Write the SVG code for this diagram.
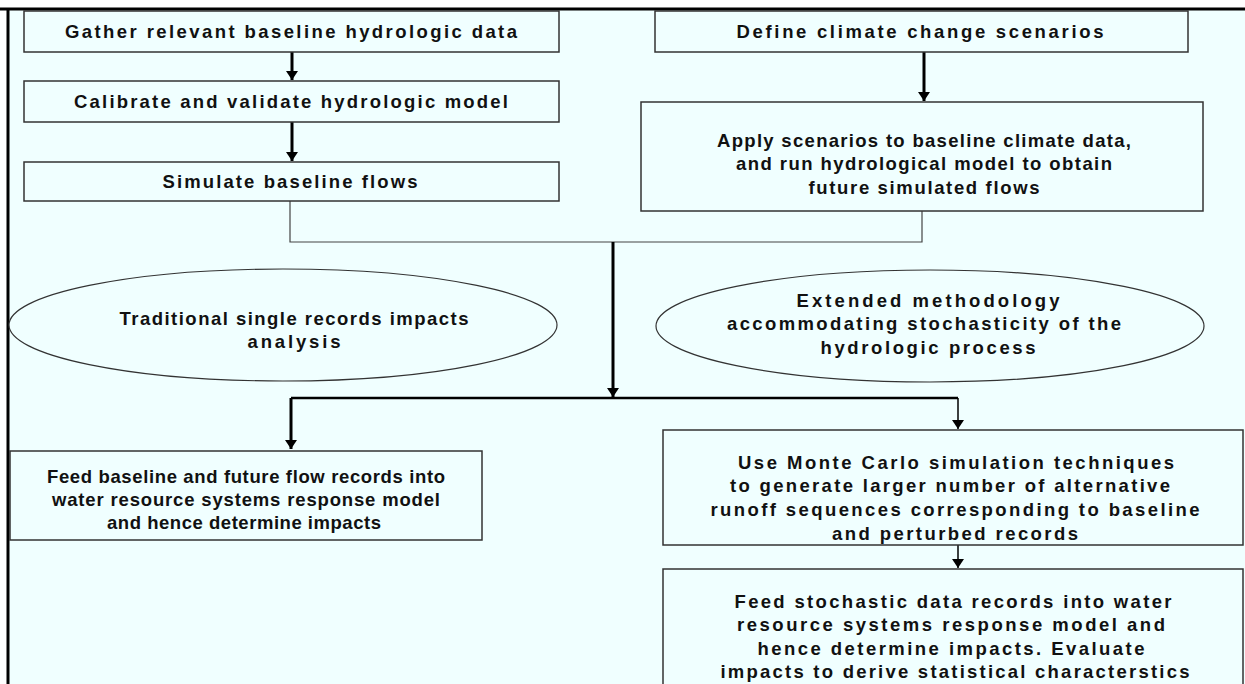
<svg xmlns="http://www.w3.org/2000/svg" width="1245" height="684" viewBox="0 0 1245 684">
<style>
.box{fill:#F0FFFF;stroke:#333;stroke-width:1.5}
.ell{fill:#F0FFFF;stroke:#333;stroke-width:1.2}
.t{font-family:"Liberation Sans",Arial,sans-serif;font-weight:bold;font-size:18.5px;fill:#111;text-anchor:middle;dominant-baseline:central}
.thick{stroke:#000;stroke-width:3;fill:none}
.mid{stroke:#000;stroke-width:2.5;fill:none}
.thin{stroke:#000;stroke-width:1.5;fill:none}
.hair{stroke:#444;stroke-width:1.2;fill:none}
</style>
<defs>
<marker id="ah" markerUnits="userSpaceOnUse" markerWidth="10" markerHeight="13" refX="9" refY="6.5" orient="auto" viewBox="0 0 10 13">
<path d="M0,0.5 L9,6.5 L0,12.5 Z" fill="#000"/>
</marker>
</defs>
<rect x="0" y="0" width="1245" height="684" fill="#fff"/>
<rect x="8" y="9" width="1237" height="675" fill="#F0FFFF"/>
<path d="M0,9 H1245 M8,9 V684" stroke="#000" stroke-width="3" fill="none"/>

<g id="connectors">
<path class="thick" d="M292,52 V80" marker-end="url(#ah)"/>
<path class="thick" d="M292,122 V161" marker-end="url(#ah)"/>
<path class="thick" d="M924,52 V101" marker-end="url(#ah)"/>
<path class="hair" d="M290,201 V242 H922 V211"/>
<path class="thick" d="M613,242 V397" marker-end="url(#ah)"/>
<path class="mid" d="M291,398 H958"/>
<path class="thick" d="M291,398 V449" marker-end="url(#ah)"/>
<path class="thin" d="M958,398 V429" marker-end="url(#ah)"/>
<path class="thin" d="M958,545 V568" marker-end="url(#ah)"/>
</g>

<g id="n1"><rect class="box" x="24" y="11" width="535" height="41"/>
<text class="t" x="291" y="31" textLength="452" lengthAdjust="spacing">Gather relevant baseline hydrologic data</text></g>

<g id="n2"><rect class="box" x="24" y="81" width="535" height="41"/>
<text class="t" x="291" y="101" textLength="434" lengthAdjust="spacing">Calibrate and validate hydrologic model</text></g>

<g id="n3"><rect class="box" x="24" y="162" width="535" height="39"/>
<text class="t" x="290" y="181" textLength="255" lengthAdjust="spacing">Simulate baseline flows</text></g>

<g id="n4"><rect class="box" x="655" y="11" width="533" height="41"/>
<text class="t" x="920" y="31" textLength="367" lengthAdjust="spacing">Define climate change scenarios</text></g>

<g id="n5"><rect class="box" x="641" y="102" width="562" height="109"/>
<text class="t" x="924" y="140" textLength="414" lengthAdjust="spacing">Apply scenarios to baseline climate data,</text>
<text class="t" x="924" y="163" textLength="376" lengthAdjust="spacing">and run hydrological model to obtain</text>
<text class="t" x="924" y="187" textLength="231" lengthAdjust="spacing">future simulated flows</text></g>

<g id="n6"><ellipse class="ell" cx="283" cy="325" rx="274" ry="56"/>
<text class="t" x="294" y="318" textLength="349" lengthAdjust="spacing">Traditional single records impacts</text>
<text class="t" x="294" y="341" textLength="93" lengthAdjust="spacing">analysis</text></g>

<g id="n7"><ellipse class="ell" cx="930" cy="326" rx="274" ry="56"/>
<text class="t" x="928" y="300" textLength="263" lengthAdjust="spacing">Extended methodology</text>
<text class="t" x="924" y="323" textLength="394" lengthAdjust="spacing">accommodating stochasticity of the</text>
<text class="t" x="928" y="347" textLength="215" lengthAdjust="spacing">hydrologic process</text></g>

<g id="n8"><rect class="box" x="10" y="451" width="472" height="89"/>
<text class="t" x="246" y="476" textLength="398" lengthAdjust="spacing">Feed baseline and future flow records into</text>
<text class="t" x="246" y="499" textLength="388" lengthAdjust="spacing">water resource systems response model</text>
<text class="t" x="244" y="522" textLength="274" lengthAdjust="spacing">and hence determine impacts</text></g>

<g id="n9"><rect class="box" x="663" y="430" width="580" height="115"/>
<text class="t" x="956" y="462" textLength="436" lengthAdjust="spacing">Use Monte Carlo simulation techniques</text>
<text class="t" x="950" y="485" textLength="440" lengthAdjust="spacing">to generate larger number of alternative</text>
<text class="t" x="955" y="509" textLength="489" lengthAdjust="spacing">runoff sequences corresponding to baseline</text>
<text class="t" x="955" y="533" textLength="246" lengthAdjust="spacing">and perturbed records</text></g>

<g id="n10"><rect class="box" x="663" y="569" width="580" height="130"/>
<text class="t" x="953" y="601" textLength="437" lengthAdjust="spacing">Feed stochastic data records into water</text>
<text class="t" x="951" y="624" textLength="428" lengthAdjust="spacing">resource systems response model and</text>
<text class="t" x="951" y="648" textLength="387" lengthAdjust="spacing">hence determine impacts. Evaluate</text>
<text class="t" x="955" y="671" textLength="469" lengthAdjust="spacing">impacts to derive statistical characterstics</text></g>
</svg>
